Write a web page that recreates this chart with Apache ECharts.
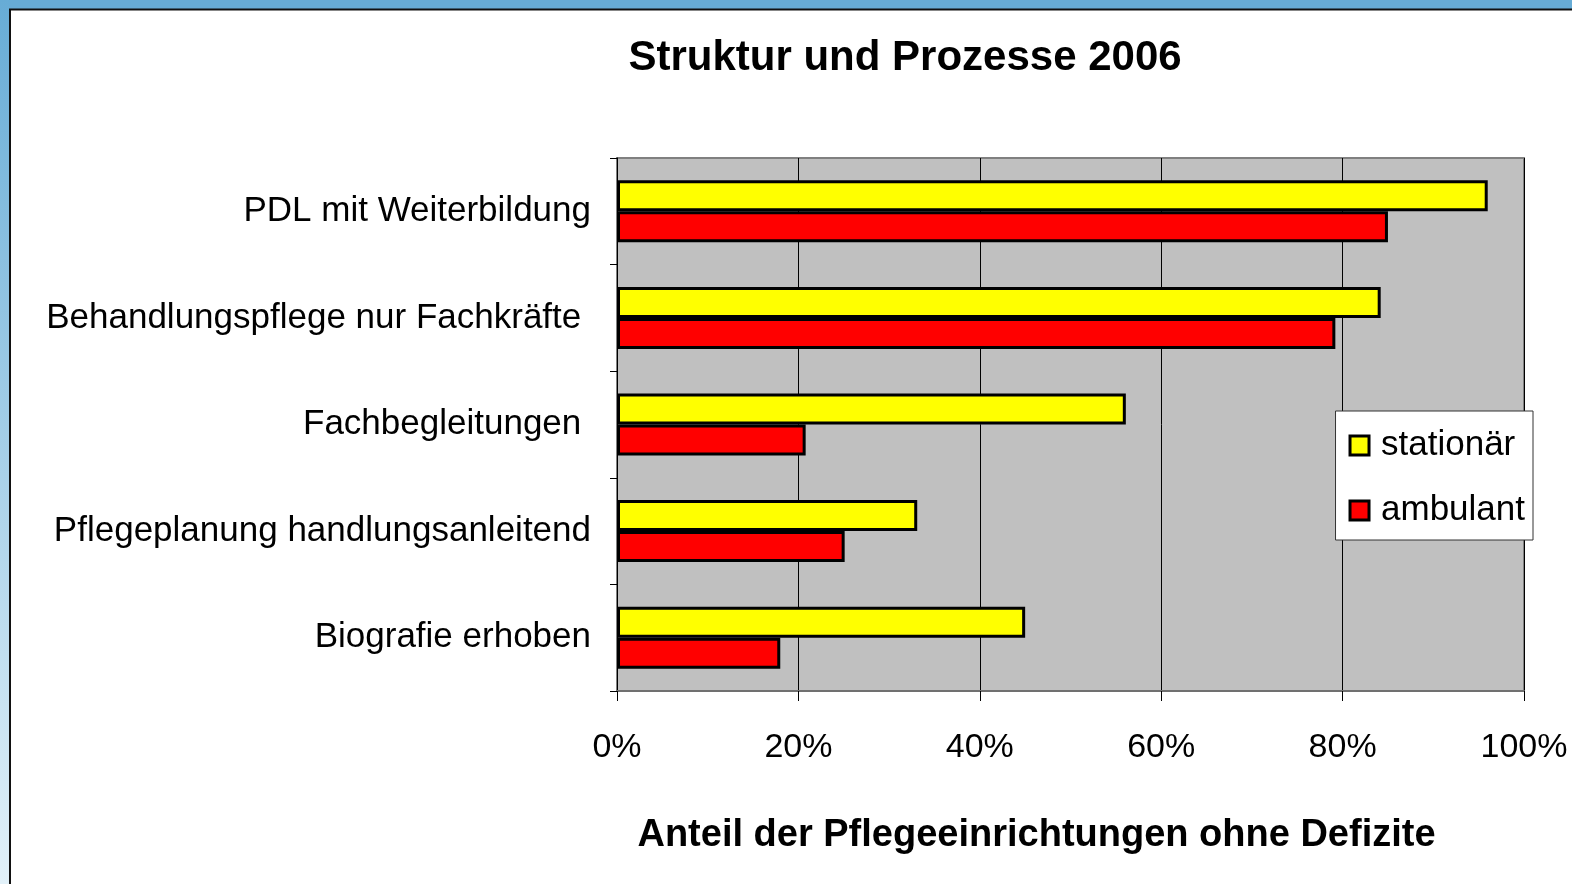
<!DOCTYPE html>
<html>
<head>
<meta charset="utf-8">
<script src="https://cdn.jsdelivr.net/npm/echarts@6/dist/echarts.min.js"></script>
<style>
  html, body { margin: 0; padding: 0; background: #fff; }
  #chart { width: 1572px; height: 884px; }
</style>
</head>
<body>
<div id="chart"></div>
<script>
// categories top to bottom
const categories = [
  'PDL mit Weiterbildung',
  'Behandlungspflege nur Fachkräfte ',
  'Fachbegleitungen ',
  'Pflegeplanung handlungsanleitend',
  'Biografie erhoben'
];
const stationaer = [96, 84.2, 56.1, 33.1, 45];
const ambulant = [85, 79.2, 20.8, 25.1, 18];
const xTicks = [0, 20, 40, 60, 80, 100];

const font = '"Liberation Sans", Arial, sans-serif';
const chart = echarts.init(document.getElementById('chart'));

chart.setOption({
  backgroundColor: '#fff',
  animation: false,
  textStyle: { fontFamily: font, color: '#000' },
  title: {
    text: 'Struktur und Prozesse 2006',
    left: 900,
    textAlign: 'center',
    top: 32,
    textStyle: { fontFamily: font, fontSize: 42, fontWeight: 'bold', color: '#000' }
  },
  // blue window frame
  graphic: [
    { type: 'rect', shape: { x: 0, y: 0, width: 1572, height: 9 }, style: { fill: '#67acd6' }, silent: true },
    {
      type: 'rect', shape: { x: 0, y: 0, width: 9, height: 884 }, silent: true,
      style: { fill: new echarts.graphic.LinearGradient(0, 0, 0, 1, [
        { offset: 0, color: '#67acd6' }, { offset: 1, color: '#e2f1f9' }
      ]) }
    },
    { type: 'line', shape: { x1: 9, y1: 9.5, x2: 1572, y2: 9.5 }, style: { stroke: '#111', lineWidth: 2 }, silent: true },
    { type: 'line', shape: { x1: 10, y1: 9, x2: 10, y2: 884 }, style: { stroke: '#111', lineWidth: 2 }, silent: true }
  ],
  legend: {
    orient: 'vertical',
    right: 39,
    top: 411,
    data: ['stationär', 'ambulant'],
    icon: 'rect',
    itemWidth: 19,
    itemHeight: 19,
    itemGap: 30,
    itemStyle: { borderColor: '#000', borderWidth: 3 },
    backgroundColor: '#fff',
    borderColor: '#333',
    borderWidth: 1,
    borderRadius: 0,
    padding: [17, 8, 12, 13],
    textStyle: { fontFamily: font, fontSize: 35, color: '#000', padding: [0, 0, 0, 7] }
  },
  grid: {
    left: 617,
    right: 48,
    top: 158,
    bottom: 193,
    show: true,
    backgroundColor: '#c0c0c0',
    borderColor: '#808080',
    borderWidth: 2,
    containLabel: false
  },
  xAxis: {
    type: 'value',
    min: xTicks[0],
    max: xTicks[xTicks.length - 1],
    interval: 20,
    name: 'Anteil der Pflegeeinrichtungen ohne Defizite',
    nameLocation: 'middle',
    nameGap: 126,
    nameTextStyle: { fontFamily: font, fontSize: 38, fontWeight: 'bold', color: '#000', padding: [0, 68, 0, 0] },
    axisLine: { show: true, lineStyle: { color: '#707070', width: 2 } },
    axisTick: { show: true, length: 10, lineStyle: { color: '#000', width: 1 } },
    axisLabel: { formatter: '{value}%', fontSize: 34, color: '#000', margin: 40, fontFamily: font },
    splitLine: { show: true, lineStyle: { color: '#000', width: 1 } }
  },
  yAxis: {
    type: 'category',
    inverse: true,
    data: categories,
    axisLine: { show: true, lineStyle: { color: '#000', width: 1 } },
    axisTick: { show: true, length: 7, lineStyle: { color: '#000' } },
    axisLabel: { fontSize: 35, color: '#000', margin: 26, fontFamily: font },
    splitLine: { show: false }
  },
  series: [
    {
      name: 'stationär',
      type: 'bar',
      data: stationaer,
      barWidth: 31,
      barGap: '0%',
      itemStyle: { color: '#ffff00', borderColor: '#000', borderWidth: 3 }
    },
    {
      name: 'ambulant',
      type: 'bar',
      data: ambulant,
      barWidth: 31,
      barGap: '0%',
      itemStyle: { color: '#ff0000', borderColor: '#000', borderWidth: 3 }
    }
  ]
});
</script>
</body>
</html>
